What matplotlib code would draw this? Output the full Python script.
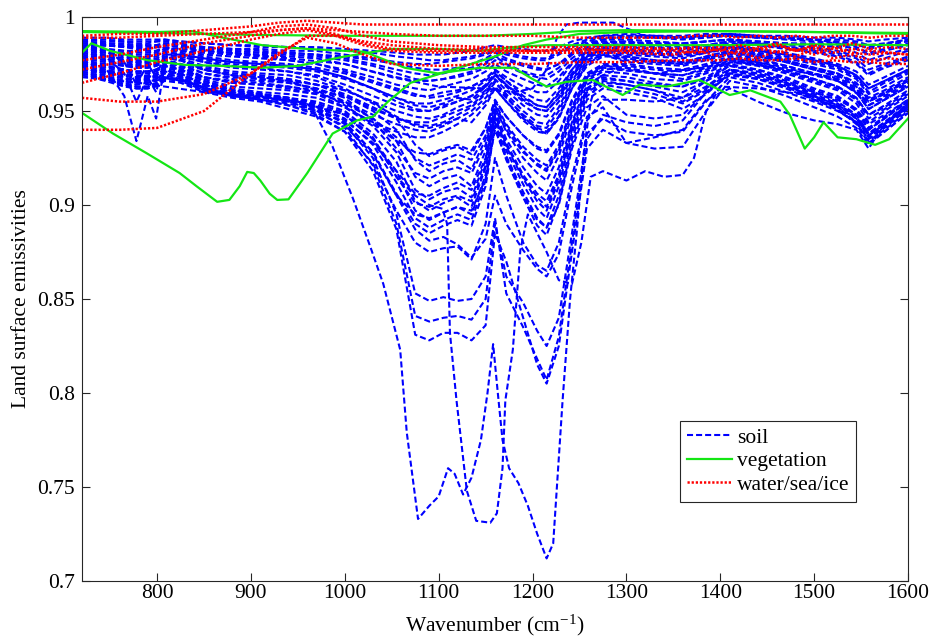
import matplotlib
matplotlib.use("Agg")
import matplotlib.pyplot as plt
import numpy as np

plt.rcParams['font.family'] = ['Liberation Serif', 'DejaVu Serif']
plt.rcParams['mathtext.fontset'] = 'custom'
plt.rcParams['mathtext.rm'] = 'Liberation Serif'
plt.rcParams['mathtext.it'] = 'Liberation Serif:italic'

# ---------------- data ----------------
# common wavenumber grid for grouped soil spectra (cm^-1)
soil_grid = [720, 745, 765, 778, 790, 799, 808,
             825, 850, 880, 910, 940, 970, 1000, 1030,
             1055, 1075, 1090, 1105, 1120, 1135, 1150, 1160,
             1172, 1190, 1205, 1215, 1228, 1242, 1258, 1275,
             1300, 1330, 1360, 1385, 1410, 1440, 1470, 1500, 1525, 1545, 1558, 1575, 1600]

# emissivity x 1000
soil_upper = [
    [989,989,988,988,988,988,988, 987,986,985,985,984,984,983,982, 981,980,980,980,981,982,984,985, 984,983,982,982,984,987,989,990, 991,990,990,991,991,990,990,989,989,988,987,988,989],
    [988,987,987,986,986,987,987, 986,984,983,983,982,982,980,978, 976,975,975,976,977,978,980,982, 980,978,977,977,980,984,987,989, 989,989,988,989,990,989,989,988,987,986,983,985,987],
    [987,986,985,985,985,985,986, 985,983,982,981,981,980,978,975, 972,970,969,970,972,973,976,979, 977,974,972,972,975,981,986,988, 988,987,986,987,988,986,985,984,982,979,975,978,982],
    [986,985,984,984,983,984,985, 984,982,981,980,979,978,975,971, 968,966,966,967,968,970,973,977, 974,970,968,967,971,978,984,987, 986,986,985,987,988,987,986,986,985,983,980,982,985],
    [985,983,982,982,982,982,984, 982,980,979,978,977,975,972,968, 964,962,961,963,965,967,971,975, 971,967,964,963,968,976,983,986, 987,985,984,985,987,985,984,983,981,978,972,975,979],
    [984,982,981,980,980,981,983, 981,979,977,976,975,973,970,965, 961,958,958,960,961,963,967,972, 968,963,960,960,966,975,982,985, 984,983,982,984,986,985,983,981,979,975,969,973,977],
    [983,981,979,978,978,979,981, 980,977,975,974,973,971,967,962, 957,954,954,956,958,961,966,971, 966,960,956,955,962,972,981,984, 983,982,981,983,985,983,981,978,975,971,964,968,974],
    [982,980,978,977,977,978,980, 979,976,973,972,971,969,964,958, 953,950,950,953,955,958,963,969, 964,957,953,952,959,970,980,983, 982,980,980,982,984,982,979,976,973,968,960,965,971],
    [981,979,977,976,976,977,979, 978,974,971,970,969,966,961,955, 950,947,946,948,952,955,961,967, 961,953,948,947,955,968,979,983, 980,979,978,981,984,982,980,977,974,969,962,966,972],
    [980,978,976,975,975,976,978, 977,972,969,968,967,964,958,951, 946,943,942,944,948,952,959,965, 959,950,944,943,952,966,978,982, 979,977,976,979,982,980,977,973,970,965,957,961,968],
    [979,977,975,974,974,975,977, 975,970,967,966,965,962,955,948, 943,940,939,942,946,950,957,963, 957,948,942,941,950,965,977,981, 978,976,975,978,981,979,976,972,968,962,953,958,965],
    [978,976,974,973,973,974,976, 974,968,965,964,962,959,952,944, 939,936,936,939,943,948,955,962, 955,945,939,938,947,963,976,980, 976,975,974,977,980,978,974,970,966,960,951,956,963],
    [987,986,986,985,985,985,986, 985,984,983,982,981,980,979,977, 975,973,972,972,973,975,978,981, 978,975,973,972,975,980,985,988, 990,989,989,990,990,989,988,987,986,984,981,983,986],
    [984,983,982,981,981,982,983, 982,981,980,979,977,975,971,966, 962,959,957,958,960,963,967,972, 966,958,953,952,960,972,982,986, 985,984,983,985,987,986,984,982,980,976,970,974,978],
    [986,985,984,983,983,984,985, 984,983,982,981,980,979,977,974, 970,967,966,967,969,971,975,979, 975,971,969,969,973,980,985,987, 987,986,986,987,988,987,986,985,984,981,977,980,983],
    [983,981,980,979,979,980,982, 980,978,976,975,974,972,968,962, 955,951,950,952,955,958,964,970, 964,956,951,950,957,969,979,983, 981,980,979,981,983,981,978,975,972,967,959,963,970],
    [981,979,977,976,976,977,979, 977,973,970,969,967,964,959,952, 946,944,944,947,950,953,960,966, 958,947,940,938,946,962,975,980, 977,976,975,978,981,979,976,972,969,963,955,959,966],
    [988,988,987,987,987,987,988, 987,986,985,984,984,983,982,981, 979,978,977,977,978,979,981,983, 981,979,978,978,981,985,988,990, 990,990,989,990,991,990,989,988,988,987,985,986,988],
]

soil_mid = [
    [977,975,974,973,973,974,976, 974,970,968,967,966,964,961,955, 946,932,926,929,931,927,941,956, 947,937,931,929,938,956,970,975, 975,973,972,975,979,977,974,970,967,961,953,957,964],
    [976,974,972,971,971,972,975, 973,968,965,964,963,961,958,950, 940,924,918,922,924,919,935,954, 943,931,924,921,932,952,968,973, 972,970,969,973,978,976,972,967,963,957,948,953,961],
    [975,973,971,970,970,971,974, 972,967,963,962,961,959,955,946, 934,915,910,914,916,910,929,952, 939,925,917,913,926,948,966,971, 970,967,966,970,976,974,970,965,961,954,944,950,958],
    [974,972,970,968,969,970,973, 971,966,962,960,959,957,952,942, 928,908,903,907,909,904,924,950, 935,920,910,906,920,944,964,969, 968,965,963,968,975,972,968,962,958,951,941,947,956],
    [973,970,968,966,967,968,971, 969,964,960,959,957,955,950,938, 923,902,897,901,904,899,920,948, 932,915,904,899,915,941,962,967, 966,963,960,966,974,971,966,960,955,948,938,944,954],
    [972,969,966,964,965,967,970, 968,963,959,958,956,953,948,935, 918,897,892,896,899,895,916,946, 929,911,898,893,910,938,960,965, 964,961,957,963,972,970,965,958,953,946,936,942,952],
    [971,968,965,963,963,965,969, 967,962,958,957,955,952,946,932, 912,893,888,892,895,892,913,944, 926,907,893,888,905,935,958,964, 962,959,954,961,971,969,964,957,952,944,934,940,950],
    [970,967,964,962,962,964,968, 966,961,958,956,954,950,944,928, 906,890,885,889,892,889,910,942, 924,904,889,884,901,932,956,962, 960,957,951,959,970,968,963,956,951,943,933,939,949],
    [979,977,975,974,974,975,977, 975,972,969,967,965,962,957,945, 930,917,914,918,920,917,932,951, 940,928,922,919,930,952,968,974, 973,970,967,971,977,975,971,966,962,956,946,951,959],
    [975,972,969,968,968,969,972, 970,965,961,959,957,954,949,936, 915,901,899,903,905,902,921,947, 931,914,902,897,913,940,961,966, 964,961,955,962,972,970,965,959,954,947,937,943,953],
    [976,974,972,971,971,972,974, 972,968,966,965,963,960,954,946, 936,925,921,924,927,924,937,953, 942,929,921,918,929,950,967,972, 973,970,969,972,977,975,971,967,963,957,948,952,960],
    [974,971,969,967,967,969,972, 969,964,961,959,957,953,945,933, 918,906,905,909,912,908,925,949, 933,916,906,902,916,943,962,968, 966,964,963,967,974,972,967,961,957,950,940,946,955],
]

soil_deep = [
    [973,970,967,966,966,967,970, 968,962,959,958,956,951,944,928, 905,887,881,883,879,872,882,905, 890,876,866,862,874,910,945,956, 956,955,957,966,972,969,965,960,956,951,943,948,956],
    [976,974,972,971,971,972,974, 972,966,961,959,957,952,943,925, 895,853,849,851,849,850,862,893, 853,835,818,807,830,880,935,948, 944,942,945,960,970,967,963,958,953,948,938,944,953],
    [974,971,969,968,968,969,971, 970,964,960,958,955,950,941,921, 890,841,838,840,841,839,850,890, 862,848,833,825,840,885,938,946, 939,937,939,955,968,965,960,955,950,944,935,941,951],
    [971,968,966,965,965,966,968, 967,962,958,956,953,948,939,918, 887,831,828,832,832,828,836,885, 870,840,815,805,825,875,930,940, 933,930,931,950,966,963,958,952,947,941,932,939,949],
    [970,967,964,963,963,964,967, 966,961,958,956,953,949,942,927, 905,895,893,896,899,897,914,940, 925,905,892,888,900,930,952,958, 948,946,948,960,969,967,962,956,952,946,937,943,952],
    [969,966,963,962,962,963,966, 965,960,957,955,951,947,939,922, 897,880,875,877,878,871,890,925, 905,880,868,865,880,915,947,952, 933,936,940,956,962,955,949,945,943,940,930,943,954],
]

soil_doublet = [
    [976,973,958,934,958,946,975, 977,972,969,968,966,961,953,943, 934,928,927,930,932,929,941,955, 947,937,930,928,937,955,969,974, 974,972,971,974,978,976,973,969,966,960,951,956,963],
    [981,979,970,955,968,960,978, 979,976,974,973,971,968,962,954, 947,942,941,943,946,944,953,962, 955,946,941,939,947,962,974,979, 979,977,976,979,982,980,977,973,970,964,956,960,967],
    [984,982,976,964,975,968,980, 980,978,976,975,974,972,968,962, 957,953,952,954,957,956,963,969, 963,955,951,950,957,969,979,983, 983,981,980,982,985,983,980,977,974,969,962,966,972],
]

# individual soil spectra with their own sampling
soil_a_wn = [720, 760, 800, 830, 860, 890, 905, 912, 918, 931, 950, 966, 987, 1009, 1027, 1041, 1059, 1066,
             1078, 1090, 1100, 1110, 1117, 1126, 1135, 1145, 1152, 1158, 1163, 1168, 1175, 1185, 1195, 1205,
             1215, 1222, 1232, 1240, 1247, 1255, 1262, 1270, 1290, 1330, 1380, 1420, 1470, 1520, 1558, 1600]
soil_a_val = [0.972, 0.970, 0.968, 0.966, 0.961, 0.958, 0.957, 0.958, 0.955, 0.957, 0.955, 0.951, 0.931, 0.903,
              0.878, 0.858, 0.823, 0.779, 0.733, 0.740, 0.745, 0.760, 0.757, 0.746, 0.755, 0.775, 0.800, 0.826,
              0.800, 0.775, 0.760, 0.752, 0.740, 0.725, 0.712, 0.720, 0.796, 0.850, 0.885, 0.930, 0.955, 0.968,
              0.972, 0.970, 0.973, 0.976, 0.972, 0.968, 0.955, 0.966]

soil_b_wn = [720, 780, 850, 900, 950, 1000, 1030, 1055, 1075, 1090, 1104, 1109, 1112, 1119, 1130, 1140, 1155,
             1162, 1168, 1171, 1179, 1187, 1195, 1205, 1215, 1228, 1242, 1252, 1262, 1275, 1300, 1320, 1340,
             1360, 1372, 1385, 1400, 1440, 1500, 1558, 1600]
soil_b_val = [0.968, 0.965, 0.960, 0.958, 0.955, 0.948, 0.935, 0.915, 0.905, 0.900, 0.898, 0.890, 0.832, 0.796,
              0.748, 0.732, 0.731, 0.736, 0.760, 0.796, 0.823, 0.876, 0.895, 0.885, 0.875, 0.860, 0.858, 0.880,
              0.915, 0.918, 0.913, 0.918, 0.915, 0.916, 0.925, 0.950, 0.963, 0.962, 0.958, 0.940, 0.955]

soil_c_wn = [720, 800, 900, 1000, 1050, 1100, 1150, 1180, 1200, 1215, 1226, 1236, 1250, 1261, 1286, 1300,
             1320, 1350, 1400, 1450, 1500, 1558, 1600]
soil_c_val = [0.985, 0.984, 0.980, 0.975, 0.968, 0.963, 0.962, 0.960, 0.962, 0.972, 0.989, 0.996, 0.997,
              0.997, 0.997, 0.994, 0.990, 0.989, 0.990, 0.989, 0.988, 0.984, 0.988]

# vegetation spectra
veg_a_wn = [720, 800, 900, 1000, 1100, 1150, 1200, 1250, 1300, 1400, 1500, 1600]
veg_a_val = [0.992, 0.9915, 0.9905, 0.990, 0.990, 0.990, 0.991, 0.9925, 0.993, 0.9925, 0.992, 0.991]

veg_b_wn = [720, 730, 750, 790, 830, 870, 912, 950, 1000, 1050, 1100, 1144, 1180, 1215, 1260, 1300, 1400, 1500, 1600]
veg_b_val = [0.981, 0.986, 0.982, 0.977, 0.9745, 0.974, 0.973, 0.974, 0.979, 0.983, 0.983, 0.982, 0.984, 0.985,
             0.985, 0.985, 0.985, 0.9855, 0.985]

veg_c_wn = [720, 800, 837, 870, 912, 960, 1021, 1064, 1099, 1144, 1180, 1200, 1215, 1236, 1264, 1296, 1314, 1343,
            1378, 1410, 1432, 1464, 1474, 1490, 1500, 1510, 1525, 1545, 1565, 1580, 1600]
veg_c_val = [0.9925, 0.992, 0.9925, 0.989, 0.985, 0.983, 0.9815, 0.973, 0.970, 0.973, 0.973, 0.967, 0.963, 0.9655,
             0.9665, 0.9585, 0.964, 0.963, 0.9665, 0.9585, 0.961, 0.955, 0.948, 0.930, 0.936, 0.944, 0.936, 0.935,
             0.932, 0.935, 0.946]

veg_d_wn = [720, 753, 789, 824, 842, 864, 877, 888, 896, 903, 910, 920, 928, 940, 960, 987, 1013, 1030, 1046, 1070,
            1096, 1131, 1160, 1190, 1215, 1250, 1300, 1400, 1500, 1600]
veg_d_val = [0.949, 0.938, 0.9275, 0.917, 0.910, 0.9017, 0.9027, 0.910, 0.9176, 0.917, 0.913, 0.906, 0.9027,
             0.903, 0.917, 0.938, 0.945, 0.947, 0.955, 0.965, 0.969, 0.9745, 0.979, 0.985, 0.988, 0.991, 0.992,
             0.9925, 0.992, 0.9915]

# water / sea / ice spectra (emissivity x 1000)
water_grid = [720, 760, 800, 850, 900, 930, 960, 990, 1020, 1050, 1100, 1150, 1200, 1250, 1300, 1350, 1375,
              1400, 1420, 1440, 1460, 1480, 1500, 1520, 1540, 1560, 1580, 1600]
water = [
    [990,991,991,993,995,997,998,997,996,996,996,996,996,996,996,996,996,996,996,996,996,996,996,996,996,996,996,996],
    [989,989,990,991,992,993,994,993,992,991,990,990,990,989,989,989,990,990,989,990,989,990,989,990,990,989,990,990],
    [977,980,984,988,992,995,996,994,990,987,985,984,984,984,984,983,984,982,985,983,986,982,985,983,986,983,984,983],
    [972,976,980,986,990,993,994,991,986,983,982,982,982,983,982,982,981,983,980,984,981,983,980,984,981,980,981,980],
    [965,970,976,982,988,991,993,990,985,982,981,981,981,981,981,980,982,979,982,978,982,979,983,978,980,977,978,977],
    [957,955,955,959,970,980,990,990,987,985,983,983,982,982,983,983,983,984,983,982,985,982,984,981,983,982,981,980],
    [940,940,941,950,970,981,989,986,980,975,974,975,975,976,976,977,977,977,978,977,977,978,976,977,976,976,975,975],
]

x_ticks = [800, 900, 1000, 1100, 1200, 1300, 1400, 1500, 1600]
y_ticks = [0.7, 0.75, 0.8, 0.85, 0.9, 0.95, 1.0]
y_tick_labels = ['0.7', '0.75', '0.8', '0.85', '0.9', '0.95', '1']

# ---------------- plot ----------------
for grp in (soil_upper, soil_mid, soil_deep, soil_doublet):
    for c in grp:
        assert len(c) == len(soil_grid), len(c)
for c in water:
    assert len(c) == len(water_grid)

W, H = 935, 638
fig = plt.figure(figsize=(W / 100, H / 100), dpi=100)
ax = fig.add_axes([82 / W, 1 - 581 / H, 826 / W, 564 / H])

blue = (0, 0, 1)
green = '#14e614'
red = (1, 0, 0)
lw = 1.5
dash = (0, (2.9, 1.45))
dot = (0, (0.9, 0.75))

first = True
for grp in (soil_upper, soil_doublet, soil_mid, soil_deep):
    for c in grp:
        ax.plot(soil_grid, np.array(c) / 1000.0, color=blue, lw=lw, linestyle=dash,
                label='soil' if first else None)
        first = False
for wn, val in ((soil_a_wn, soil_a_val), (soil_b_wn, soil_b_val), (soil_c_wn, soil_c_val)):
    ax.plot(wn, val, color=blue, lw=lw, linestyle=dash)

first = True
for wn, val in ((veg_a_wn, veg_a_val), (veg_b_wn, veg_b_val), (veg_c_wn, veg_c_val), (veg_d_wn, veg_d_val)):
    ax.plot(wn, val, color=green, lw=1.6, linestyle='-', label='vegetation' if first else None)
    first = False

first = True
for c in water:
    ax.plot(water_grid, np.array(c) / 1000.0, color=red, lw=1.8, linestyle=dot,
            label='water/sea/ice' if first else None)
    first = False

ax.set_xlim(720, 1600)
ax.set_ylim(0.7, 1.0)
ax.set_xticks(x_ticks)
ax.set_xticklabels([str(t) for t in x_ticks])
ax.set_yticks(y_ticks)
ax.set_yticklabels(y_tick_labels)
ax.tick_params(direction='in', length=6, width=0.8, top=True, right=True,
               labelsize=15.5, colors='#262626', labelcolor='black')
ax.tick_params(axis='x', pad=2)
ax.tick_params(axis='y', pad=5)
for s in ax.spines.values():
    s.set_color('#262626')
    s.set_linewidth(0.8)

ax.set_xlabel(r'Wavenumber (cm$^{\mathrm{-1}}$)', fontsize=15.5)
ax.set_ylabel('Land surface emissivities', fontsize=15.5)
ax.xaxis.set_label_coords(0.5, -0.056)
ax.yaxis.set_label_coords(-0.062, 0.5)

leg = ax.legend(loc='upper left', bbox_to_anchor=(0.724, 0.284), fontsize=15.5, frameon=True,
                fancybox=False, edgecolor='#262626', framealpha=1, handlelength=2.1,
                handletextpad=0.2, borderpad=0.33, labelspacing=0.15, borderaxespad=0)
leg.get_frame().set_linewidth(0.8)

fig.savefig('out.png', dpi=100)
